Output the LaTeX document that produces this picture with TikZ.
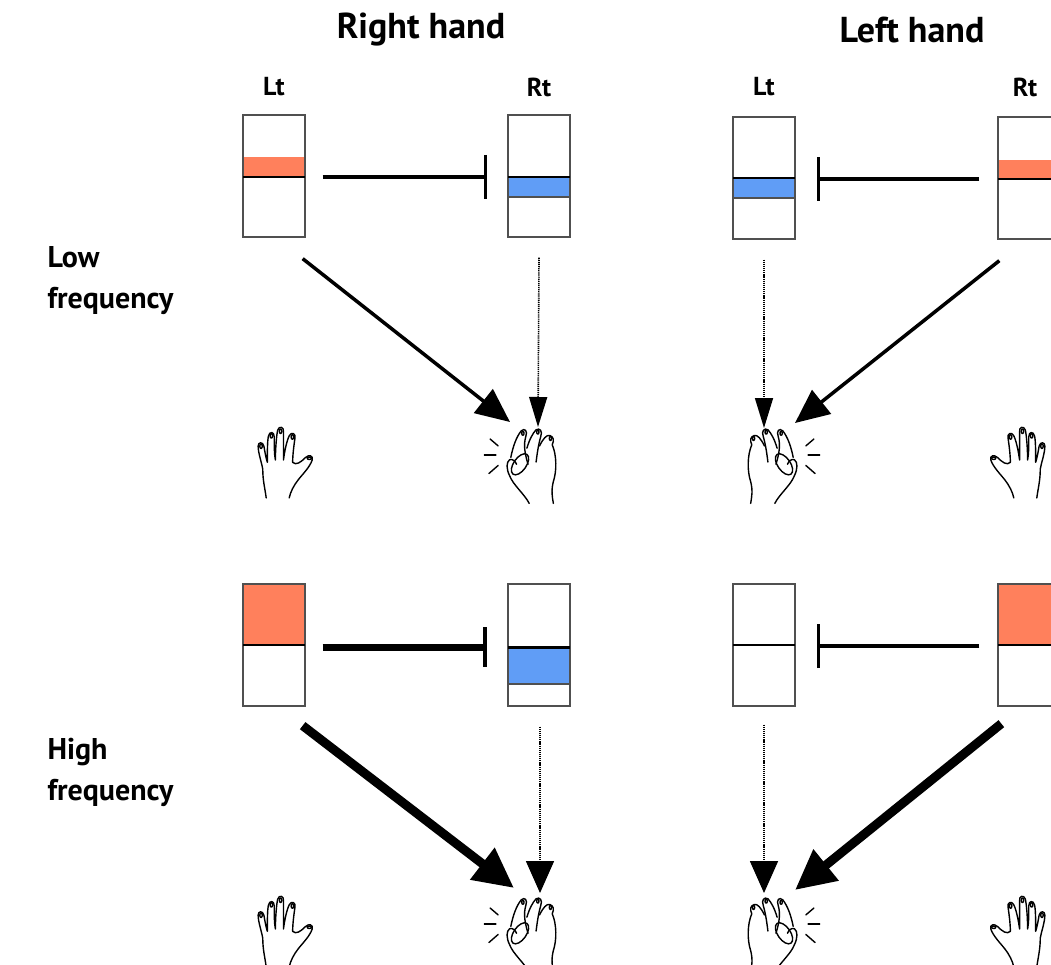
\documentclass[tikz,border=0pt]{standalone}
\usepackage{fontspec}
\setmainfont{PT Sans}
\usetikzlibrary{arrows.meta,calc}
\definecolor{actred}{RGB}{255,128,92}
\definecolor{actblue}{RGB}{96,157,246}
\definecolor{boxline}{RGB}{80,80,80}

\tikzset{
  cbox/.style={draw=boxline, line width=1.3pt, minimum width=62pt, minimum height=122pt, inner sep=0pt},
  head/.style={font=\bfseries\fontsize{36}{40}\selectfont},
  side/.style={font=\bfseries\fontsize{26}{31}\selectfont},
  rowlab/.style={font=\bfseries\fontsize{30}{41}\selectfont, align=left, anchor=west},
  band/.style={line width=2.6pt},
  exc/.style={line width=3.5pt, -{Triangle[length=34pt,width=30pt]}},
  excstrong/.style={line width=9pt, -{Triangle[length=40pt,width=38pt]}},
  weak/.style={line width=1.6pt, dash pattern=on 1.2pt off 0.9pt, -{Triangle[length=30pt,width=18pt]}},
  weakbig/.style={line width=1.6pt, dash pattern=on 1.2pt off 0.9pt, -{Triangle[length=32pt,width=28pt]}},
  inh/.style={line width=3.2pt, -{Bar[width=44pt]}},
  inhstrong/.style={line width=7pt, -{Bar[width=40pt,line width=4pt]}},
  handline/.style={line width=1.4pt, line cap=round, line join=round},
  openhand/.pic={
    \draw[handline] (-12,33) .. controls (-13,25) and (-15,18) .. (-15,8)
      .. controls (-16,2) and (-19,-6) .. (-19,-12)
      .. controls (-19,-16) and (-15,-16) .. (-14,-12)
      .. controls (-13,-6) and (-12,-1) .. (-11,2)
      .. controls (-11,-8) and (-11,-17) .. (-10,-21)
      .. controls (-9,-25) and (-5,-25) .. (-5,-20)
      .. controls (-5,-12) and (-5,-5) .. (-4,0)
      .. controls (-4,-10) and (-3,-22) .. (-2,-26)
      .. controls (-1,-30) and (4,-29) .. (3,-24)
      .. controls (3,-15) and (3,-6) .. (3,0)
      .. controls (4,-8) and (6,-17) .. (8,-21)
      .. controls (10,-25) and (14,-23) .. (13,-19)
      .. controls (12,-12) and (11,-4) .. (11,2)
      .. controls (14,5) and (18,2) .. (22,-2)
      .. controls (25,-5) and (29,-4) .. (28,0)
      .. controls (26,6) and (20,12) .. (16,17)
      .. controls (12,22) and (9,28) .. (8,33);
    \draw[handline] (-16.5,-12) ellipse (1.1 and 2);
    \draw[handline] (-7.5,-21) ellipse (1.1 and 2);
    \draw[handline] (0.5,-25) ellipse (1.1 and 2);
    \draw[handline] (10.8,-20) ellipse (1.1 and 2);
    \draw[handline] (25.5,-1.5) ellipse (1.8 and 1.1);
  },
  pinchhand/.pic={
    \draw[handline] (8,36) .. controls (4,28) and (-6,20) .. (-9,12)
      .. controls (-12,6) and (-12,0) .. (-9,-2)
      .. controls (-7,-3) and (-4,-1) .. (-3,2);
    \draw[handline, rotate around={-35:(0,2)}] (0,2) ellipse (5.5 and 10.5);
    \draw[handline] (-8,-4) .. controls (-6,-14) and (-3,-22) .. (1,-27)
      .. controls (4,-30) and (7,-27) .. (5,-22)
      .. controls (3,-15) and (4,-8) .. (7,2);
    \draw[handline] (6,-12) .. controls (8,-19) and (11,-25) .. (14,-28)
      .. controls (17,-30) and (20,-27) .. (18,-22)
      .. controls (16,-15) and (15,-8) .. (14,0);
    \draw[handline] (17,-14) .. controls (20,-20) and (23,-24) .. (26,-23)
      .. controls (29,-22) and (30,-19) .. (28,-15)
      .. controls (32,-6) and (32,8) .. (29,17)
      .. controls (27,25) and (28,30) .. (29,36);
    \draw[handline] (2.5,-25) ellipse (1 and 1.8);
    \draw[handline] (15.5,-26) ellipse (1 and 1.8);
    \draw[handline] (26.5,-20.5) ellipse (1 and 1.8);
    \draw[handline] (-26,-20) -- (-19,-14);
    \draw[handline] (-31,-6) -- (-21,-6);
    \draw[handline] (-27,10) -- (-19,3);
  }
}

\begin{document}
\begin{tikzpicture}[x=1pt,y=-1pt]
\useasboundingbox (0,0) rectangle (1051,965);
\clip (0,0) rectangle (1051,965);

% headings
\node[head] (hR) at (421,30) {Right hand};
\node[head] (hL) at (912,30) {Left hand};
\node[side] (tRL) at (274,87) {Lt};
\node[side] (tRR) at (539,87) {Rt};
\node[side] (tLL) at (764,87) {Lt};
\node[side] (tLR) at (1025,87) {Rt};

% row labels
\node[rowlab] (low) at (44,281) {Low\\frequency};
\node[rowlab] (high) at (44,772) {High\\frequency};

% ---------- low frequency row ----------
\fill[actred]  (243,157) rectangle (305,177);
\fill[actblue] (508,177) rectangle (570,197);
\fill[actblue] (733,178) rectangle (795,198);
\fill[actred]  (998,160) rectangle (1060,179);
\node[cbox] (rl1) at (274,176) {};
\node[cbox] (rr1) at (539,176) {};
\node[cbox] (ll1) at (764,178) {};
\node[cbox] (lr1) at (1029,178) {};
\draw[band] (243,177) -- (305,177);
\draw[band] (508,177) -- (570,177);
\draw[boxline, line width=1.2pt] (508,197) -- (570,197);
\draw[band] (733,178) -- (795,178);
\draw[boxline, line width=1.2pt] (733,198) -- (795,198);
\draw[band] (998,179) -- (1060,179);

\draw[inh] ([shift={(17,1)}]rl1.east) -- ([shift={(-20,1)}]rr1.west);
\draw[inh] ([shift={(-18,1)}]lr1.west) -- ([shift={(21,1)}]ll1.east);

\coordinate (oR1) at (280,460);
\coordinate (pR1) at (520,462);
\coordinate (pL1) at (784,462);
\coordinate (oL1) at (1023,460);
\pic[scale=1.15] at (oR1) {openhand};
\pic[scale=1.15] at (pR1) {pinchhand};
\pic[xscale=-1, scale=1.15] at (pL1) {pinchhand};
\pic[xscale=-1, scale=1.15] at (oL1) {openhand};

\draw[exc] ([shift={(-3,21)}]rl1.south east) -- ([shift={(-10,-40)}]pR1);
\draw[weak] ([shift={(0,20)}]rr1.south) -- ([shift={(18,-35)}]pR1);
\draw[weak] ([shift={(0,20)}]ll1.south) -- ([shift={(-20,-34)}]pL1);
\draw[exc] ([shift={(2,21)}]lr1.south west) -- ([shift={(11,-39)}]pL1);

% ---------- high frequency row ----------
\fill[actred]  (243,584) rectangle (305,645);
\fill[actblue] (508,647) rectangle (570,684);
\fill[actred]  (998,584) rectangle (1060,645);
\node[cbox] (rl2) at (274,645) {};
\node[cbox] (rr2) at (539,645) {};
\node[cbox] (ll2) at (764,645) {};
\node[cbox] (lr2) at (1029,645) {};
\draw[band] (243,645) -- (305,645);
\draw[band, line width=3pt] (508,647) -- (570,647);
\draw[boxline, line width=1.2pt] (508,684) -- (570,684);
\draw[band] (733,645) -- (795,645);
\draw[band] (998,645) -- (1060,645);

\draw[inhstrong] ([shift={(17,2)}]rl2.east) -- ([shift={(-20,2)}]rr2.west);
\draw[inh] ([shift={(-18,1)}]lr2.west) -- ([shift={(21,1)}]ll2.east);

\coordinate (oR2) at (280,929);
\coordinate (pR2) at (520,931);
\coordinate (pL2) at (784,931);
\coordinate (oL2) at (1023,929);
\pic[scale=1.15] at (oR2) {openhand};
\pic[scale=1.15] at (pR2) {pinchhand};
\pic[xscale=-1, scale=1.15] at (pL2) {pinchhand};
\pic[xscale=-1, scale=1.15] at (oL2) {openhand};

\draw[excstrong] ([shift={(-3,19)}]rl2.south east) -- ([shift={(-6,-43)}]pR2);
\draw[weakbig] ([shift={(1,20)}]rr2.south) -- ([shift={(20,-38)}]pR2);
\draw[weakbig] ([shift={(0,18)}]ll2.south) -- ([shift={(-20,-38)}]pL2);
\draw[excstrong] ([shift={(4,17)}]lr2.south west) -- ([shift={(11,-41)}]pL2);
\end{tikzpicture}
\end{document}
